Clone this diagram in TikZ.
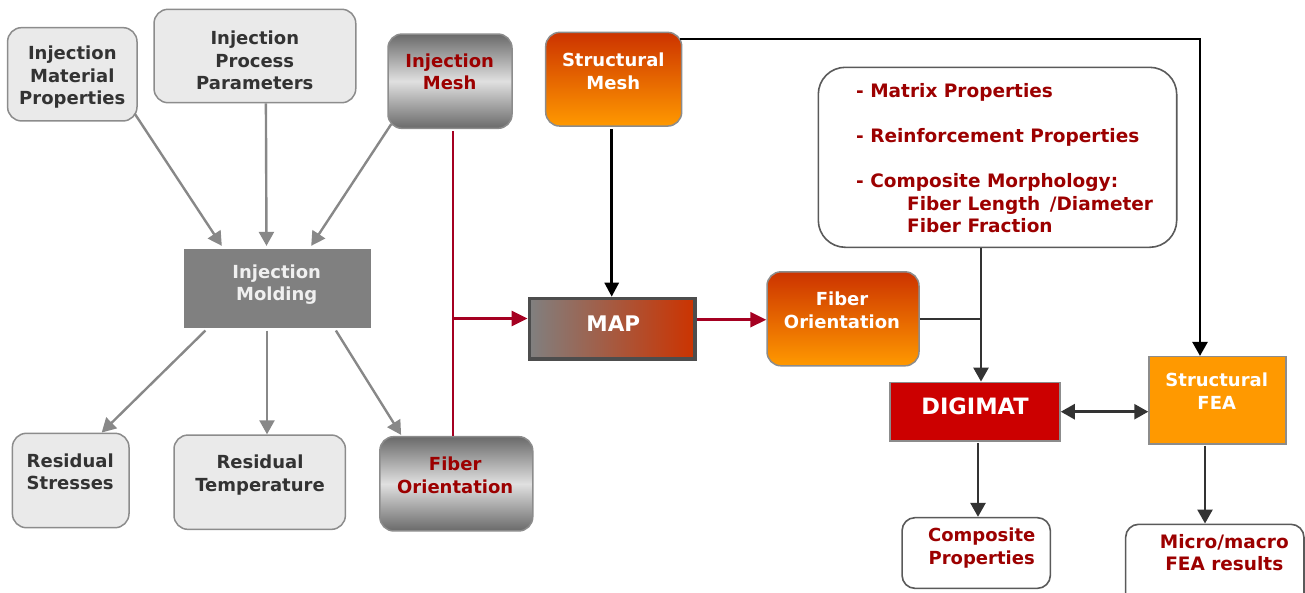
\documentclass[tikz,border=0pt]{standalone}
\usepackage{fontspec}
\setmainfont{DejaVu Sans}
\usetikzlibrary{arrows.meta,calc}
\definecolor{cLight}{HTML}{EAEAEA}
\definecolor{cBorder}{HTML}{8C8C8C}
\definecolor{cText}{HTML}{333333}
\definecolor{cRed}{HTML}{9C0000}
\definecolor{cGdark}{HTML}{6A6A6A}
\definecolor{cGlight}{HTML}{E0E0E0}
\definecolor{cOtop}{HTML}{CC3300}
\definecolor{cObot}{HTML}{FF9900}
\definecolor{cMapL}{HTML}{808080}
\definecolor{cMapR}{HTML}{CC3300}
\definecolor{cMapB}{HTML}{4D4D4D}
\definecolor{cMold}{HTML}{808080}
\definecolor{cDig}{HTML}{CC0000}
\definecolor{cFea}{HTML}{FF9900}
\definecolor{cWB}{HTML}{5A5A5A}
\definecolor{cRedLine}{HTML}{A50021}
\definecolor{cGArrow}{HTML}{888888}
\definecolor{cDArrow}{HTML}{333333}
\tikzset{
  lbox/.style={draw=cBorder, fill=cLight, line width=1.5pt, rounded corners=14pt, inner sep=0pt},
  gbox/.style={draw=cBorder, line width=1.5pt, rounded corners=14pt, inner sep=0pt,
     top color=cGdark, bottom color=cGdark, middle color=cGlight},
  obox/.style={draw=cBorder, line width=1.5pt, rounded corners=14pt, inner sep=0pt,
     top color=cOtop, bottom color=cObot},
  wbox/.style={draw=cWB, fill=white, line width=1.6pt, rounded corners=13pt, inner sep=0pt},
  lbl/.style={font=\bfseries\fontsize{18}{22.5}\selectfont, align=center, inner sep=0pt},
  dtext/.style={lbl, text=cText},
  rtext/.style={lbl, text=cRed},
  wtext/.style={lbl, text=white},
  garrow/.style={draw=cGArrow, line width=2.4pt, -{Triangle[length=14pt,width=15pt]}},
  rline/.style={draw=cRedLine, line width=2.8pt},
  rarrow/.style={rline, -{Triangle[length=16pt,width=15pt]}},
  barrow/.style={draw=black, line width=2.8pt, -{Triangle[length=14pt,width=14pt]}},
  darrow/.style={draw=cDArrow, line width=2.6pt, -{Triangle[length=14pt,width=15pt]}},
  dboth/.style={draw=cDArrow, line width=2.6pt, {Triangle[length=14pt,width=15pt]}-{Triangle[length=14pt,width=15pt]}},
  jline/.style={draw=cDArrow, line width=1.5pt}
}
\begin{document}
\begin{tikzpicture}[x=1pt,y=-1pt]
\useasboundingbox (0,0) rectangle (1305,592);
% boxes
\node[lbox, minimum width=129.4pt, minimum height=93.3pt] (imp) at (72.3,74.3) {};
\node[lbox, minimum width=201.7pt, minimum height=93.4pt] (ipp) at (254.9,56) {};
\node[gbox, minimum width=124pt, minimum height=94.3pt] (imesh) at (450,81.2) {};
\node[obox, minimum width=136pt, minimum height=93.7pt] (smesh) at (613.7,79.2) {};
\node[draw=cWB, fill=white, line width=1.6pt, rounded corners=27pt, minimum width=358.4pt, minimum height=180pt, inner sep=0pt] (props) at (997.5,157.3) {};
\node[fill=cMold, minimum width=187pt, minimum height=79.3pt, inner sep=0pt] (mold) at (277.5,288.7) {};
\node[draw=cMapB, line width=3.3pt, left color=cMapL, right color=cMapR, minimum width=165.7pt, minimum height=60.7pt, inner sep=0pt] (map) at (612,328.7) {};
\node[obox, minimum width=152pt, minimum height=94pt] (foo) at (843,318.8) {};
\node[draw=cBorder, fill=cDig, line width=1.5pt, minimum width=170pt, minimum height=58.7pt, inner sep=0pt] (dig) at (975,411.7) {};
\node[draw=cBorder, fill=cFea, line width=1.5pt, minimum width=137pt, minimum height=87.3pt, inner sep=0pt] (sfea) at (1217.5,400.3) {};
\node[lbox, minimum width=116.6pt, minimum height=94.4pt] (rs) at (70.7,480.5) {};
\node[lbox, minimum width=171.4pt, minimum height=94.3pt] (rt) at (259.7,482.2) {};
\node[gbox, minimum width=152.9pt, minimum height=94.3pt] (fog) at (456.3,483.8) {};
\node[wbox, minimum width=148.3pt, minimum height=70.7pt] (comp) at (976.2,553) {};
\node[wbox, minimum width=178.3pt, minimum height=90pt] (micro) at (1214.8,569.3) {};
% texts
\node[dtext] (impt) at (72.3,77.5) {Injection\\Material\\Properties};
\node[dtext] (ippt) at (254.8,60.5) {Injection\\Process\\Parameters};
\node[rtext] (imesht) at (449.7,71.7) {Injection\\Mesh};
\node[wtext] (smesht) at (613.3,71.2) {Structural\\Mesh};
\node[lbl, font=\bfseries\fontsize{18.5}{22.5}\selectfont, text=cRed, align=left, anchor=north west] (propst) at (856,83.4)
  {- Matrix Properties\\[22.5pt]- Reinforcement Properties\\[22.5pt]- Composite Morphology:\\
   \hspace*{51pt}Fiber Length \,/Diameter\\ \hspace*{51pt}Fiber Fraction};
\node[lbl, text=white!94!black] (moldt) at (276.7,284.8) {Injection\\Molding};
\node[wtext, font=\bfseries\fontsize{21.5}{26}\selectfont] (mapt) at (613.3,324) {MAP};
\node[wtext] (foot) at (842,310.4) {Fiber\\Orientation};
\node[wtext, font=\bfseries\fontsize{22.5}{26}\selectfont] (digt) at (975,406.7) {DIGIMAT};
\node[wtext] (sfeat) at (1216.7,391) {Structural\\FEA};
\node[dtext] (rst) at (70.2,471.7) {Residual\\Stresses};
\node[dtext] (rtt) at (260,475) {Residual\\Temperature};
\node[rtext] (fogt) at (455.2,475.3) {Fiber\\Orientation};
\node[rtext] (compt) at (981.7,548) {Composite\\Properties};
\node[rtext, font=\bfseries\fontsize{18.5}{22.5}\selectfont] (microt) at (1224.3,552.8) {Micro/macro\\FEA results};
% gray connectors
\draw[garrow] ($(imp.south east)+(-3,-8)$) -- ($(mold.north west)+(38,-3)$);
\draw[garrow] ($(ipp.south)+(11,0)$) -- ($(mold.north)+(-11,-3)$);
\draw[garrow] ($(imesh.south west)+(4,-5)$) -- ($(mold.north east)+(-60,-3)$);
\draw[garrow] ($(mold.south west)+(21.6,2)$) -- ($(rs.north)+(31,0)$);
\draw[garrow] ($(mold.south)+(-10.5,2)$) -- ($(rt.north)+(7.3,0)$);
\draw[garrow] ($(mold.south east)+(-35.3,2)$) -- ($(fog.north west)+(22,-1)$);
% red connectors
\draw[rline] ($(imesh.south)+(3,2)$) -- ($(fog.north)+(-3.3,0)$);
\coordinate (rb) at (453,318.5);
\draw[rarrow] (rb) -- (map.west |- rb);
\coordinate (m2) at ($(map.east)+(0,-9)$);
\draw[rarrow] (m2) -- (foo.west |- m2);
% black connectors
\coordinate (s1) at ($(smesh.south)+(-2,2)$);
\draw[barrow] (s1) -- (map.north -| s1);
\coordinate (tr) at (1200,39);
\draw[draw=black, line width=2.6pt, -{Triangle[length=14pt,width=15pt]}] ($(smesh.east |- tr)+(-2,0)$) -- (tr) -- (sfea.north -| tr);
% dark connectors
\coordinate (pd) at ($(props.south)+(-16.5,0)$);
\draw[darrow] (pd) -- (dig.north -| pd);
\draw[jline] (foo.east) -- (foo.east -| pd);
\draw[dboth] (dig.east) -- (sfea.west |- dig.east);
\coordinate (d1) at ($(dig.south)+(3,1)$);
\draw[darrow] (d1) -- (comp.north -| d1);
\coordinate (f1) at ($(sfea.south)+(-12.5,1)$);
\draw[darrow] (f1) -- (micro.north -| f1);
\end{tikzpicture}
\end{document}
